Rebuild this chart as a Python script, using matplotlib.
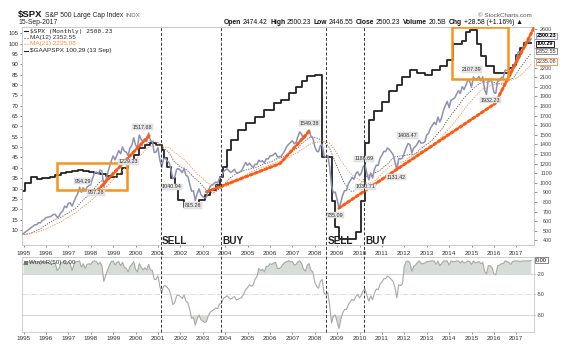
import numpy as np
import pandas as pd
import matplotlib
matplotlib.use("Agg")
import matplotlib.pyplot as plt
from matplotlib.lines import Line2D
from matplotlib.patches import Rectangle
from matplotlib.transforms import blended_transform_factory

plt.rcParams['font.family'] = ['Liberation Sans', 'DejaVu Sans']

# S&P 500 monthly closes, Jan 1993 .. Sep 2017 (1993-94 only feed the moving averages)
spx_close = [
    438.78, 443.38, 451.67, 440.19, 450.19, 450.53, 448.13, 463.56, 458.93, 467.83, 461.79, 466.45,
    481.61, 467.14, 445.77, 450.91, 456.50, 444.27, 458.26, 475.49, 462.69, 472.35, 453.69, 459.27,
    470.42, 487.39, 500.71, 514.71, 533.40, 544.75, 562.06, 561.88, 584.41, 581.50, 605.37, 615.93,
    636.02, 640.43, 645.50, 654.17, 669.12, 670.63, 639.95, 651.99, 687.31, 705.27, 757.02, 740.74,
    786.16, 790.82, 757.12, 801.34, 848.28, 885.14, 954.29, 899.47, 947.28, 914.62, 955.40, 970.43,
    980.28, 1049.34, 1101.75, 1111.75, 1090.82, 1133.84, 1120.67, 957.28, 1017.01, 1098.67, 1163.63, 1229.23,
    1279.64, 1238.33, 1286.37, 1335.18, 1301.84, 1372.71, 1328.72, 1320.41, 1282.71, 1362.93, 1388.91, 1469.25,
    1394.46, 1366.42, 1498.58, 1452.43, 1420.60, 1454.60, 1430.83, 1517.68, 1436.51, 1429.40, 1314.95, 1320.28,
    1366.01, 1239.94, 1160.33, 1249.46, 1255.82, 1224.38, 1211.23, 1133.58, 1040.94, 1059.78, 1139.45, 1148.08,
    1130.20, 1106.73, 1147.39, 1076.92, 1067.14, 989.82, 911.62, 916.07, 815.28, 885.76, 936.31, 879.82,
    855.70, 841.15, 848.18, 916.92, 963.59, 974.50, 990.31, 1008.01, 995.97, 1050.71, 1058.20, 1111.92,
    1131.13, 1144.94, 1126.21, 1107.30, 1120.68, 1140.84, 1101.72, 1104.24, 1114.58, 1130.20, 1173.82, 1211.92,
    1181.27, 1203.60, 1180.59, 1156.85, 1191.50, 1191.33, 1234.18, 1220.33, 1228.81, 1207.01, 1249.48, 1248.29,
    1280.08, 1280.66, 1294.83, 1310.61, 1270.09, 1270.20, 1276.66, 1303.82, 1335.85, 1377.94, 1400.63, 1418.30,
    1438.24, 1406.82, 1420.86, 1482.37, 1530.62, 1503.35, 1455.27, 1473.99, 1526.75, 1549.38, 1481.14, 1468.36,
    1378.55, 1330.63, 1322.70, 1385.59, 1400.38, 1280.00, 1267.38, 1282.83, 1166.36, 968.75, 896.24, 903.25,
    825.88, 735.09, 797.87, 872.81, 919.14, 919.32, 987.48, 1020.62, 1057.08, 1036.19, 1095.63, 1115.10,
    1073.87, 1104.49, 1169.43, 1186.69, 1089.41, 1030.71, 1101.60, 1049.33, 1141.20, 1183.26, 1180.55, 1257.64,
    1286.12, 1327.22, 1325.83, 1363.61, 1345.20, 1320.64, 1292.28, 1218.89, 1131.42, 1253.30, 1246.96, 1257.60,
    1312.41, 1365.68, 1408.47, 1397.91, 1310.33, 1362.16, 1379.32, 1406.58, 1440.67, 1412.16, 1416.18, 1426.19,
    1498.11, 1514.68, 1569.19, 1597.57, 1630.74, 1606.28, 1685.73, 1632.97, 1681.55, 1756.54, 1805.81, 1848.36,
    1782.59, 1859.45, 1872.34, 1883.95, 1923.57, 1960.23, 1930.67, 2003.37, 1972.29, 2018.05, 2067.56, 2058.90,
    1994.99, 2104.50, 2067.89, 2085.51, 2107.39, 2063.11, 2103.84, 1972.18, 1920.03, 2079.36, 2080.41, 2043.94,
    1940.24, 1932.23, 2059.74, 2065.30, 2096.95, 2098.86, 2173.60, 2170.95, 2168.27, 2126.15, 2198.81, 2238.83,
    2278.87, 2363.64, 2362.72, 2384.20, 2411.80, 2423.41, 2470.30, 2471.65, 2500.23,
]
spx_start = 1993

# $GAAPSPX trailing earnings, stepped (month it changes, value)
gaap_dates = ['1994-12', '1995-02', '1995-05', '1995-08', '1995-11', '1996-03', '1996-06', '1996-09',
              '1996-12', '1997-03', '1997-06', '1997-09', '1997-12', '1998-03', '1998-06', '1998-09',
              '1998-12', '1999-03', '1999-06', '1999-09', '1999-12', '2000-03', '2000-06', '2000-09',
              '2000-12', '2001-03', '2001-04', '2001-06', '2001-08', '2001-10', '2001-12', '2002-03',
              '2002-11', '2003-02', '2003-05', '2003-08', '2003-10', '2003-12', '2004-02', '2004-04',
              '2004-08', '2004-12', '2005-05', '2005-10', '2006-03', '2006-07', '2006-11', '2007-03',
              '2007-06', '2007-09', '2008-01', '2008-05', '2008-10', '2008-12', '2009-02', '2009-11',
              '2010-02', '2010-04', '2010-06', '2010-09', '2011-01', '2011-05', '2011-09', '2011-12',
              '2012-04', '2012-08', '2012-12', '2013-04', '2013-08', '2013-12', '2014-03', '2014-08',
              '2014-10', '2014-12', '2015-04', '2015-06', '2015-09', '2016-01', '2016-09', '2016-11',
              '2017-01', '2017-03', '2017-05']
gaap_vals = [29.0, 32.5, 35.5, 34.5, 35.0, 35.5, 36.5, 37.5,
             38.0, 38.5, 39.0, 38.5, 38.0, 37.5, 37.0, 36.0,
             35.5, 37.0, 40.0, 43.0, 46.0, 49.5, 51.0, 52.0,
             51.0, 48.6, 44.7, 40.5, 35.0, 30.0, 24.5, 21.2,
             24.5, 27.0, 29.3, 31.7, 35.7, 40.5, 48.6, 53.4,
             58.2, 61.5, 64.7, 67.9, 71.1, 72.7, 76.0, 79.0,
             82.0, 84.5, 85.0, 45.0, 24.0, 11.5, 5.5, 9.0,
             24.0, 52.0, 63.0, 67.5, 72.0, 77.0, 80.0, 84.0,
             87.0, 86.0, 85.0, 87.0, 89.0, 92.0, 100.0, 101.0,
             105.6, 106.4, 100.0, 94.0, 89.0, 86.0, 88.0, 89.6,
             94.3, 97.7, 100.29]

# Williams %R(50), monthly from Jan 1995
wr_vals = [
    -6, -3, -2, -3, -2, -3, -2, -5, -2, -6, -2, -3,
    -2, -4, -5, -6, -4, -5, -15, -12, -4, -3, -1, -6,
    -2, -5, -15, -6, -2, -2, -1, -10, -5, -12, -6, -5,
    -6, -2, -1, -2, -6, -3, -8, -31, -22, -14, -7, -2,
    -1, -7, -3, -2, -8, -3, -10, -12, -17, -9, -6, -2,
    -13, -17, -5, -10, -14, -11, -14, -6, -14, -15, -28, -28,
    -23, -38, -48, -38, -37, -40, -43, -52, -65, -62, -52, -51,
    -53, -56, -51, -60, -62, -72, -85, -84, -95, -86, -80, -87,
    -89, -91, -90, -81, -76, -74, -72, -70, -71, -64, -63, -56,
    -54, -52, -55, -57, -55, -53, -58, -57, -56, -54, -49, -43,
    -40, -36, -38, -36, -28, -24, -12, -15, -13, -17, -9, -9,
    -5, -6, -4, -3, -12, -12, -10, -6, -3, -2, -1, -2,
    -2, -7, -6, -2, -1, -5, -13, -16, -7, -5, -15, -17,
    -32, -38, -41, -31, -28, -48, -50, -47, -66, -92, -82, -80,
    -90, -100, -86, -77, -72, -72, -65, -61, -57, -59, -53, -50,
    -55, -51, -44, -42, -52, -60, -52, -58, -48, -42, -43, -35,
    -32, -27, -27, -23, -25, -28, -31, -40, -55, -36, -37, -35,
    -8, -2, -1, -4, -16, -9, -7, -3, -1, -5, -5, -4,
    -2, -2, -1, -1, -1, -6, -1, -8, -5, -1, -1, -1,
    -7, -1, -2, -2, -1, -1, -4, -1, -4, -3, -1, -2,
    -6, -1, -4, -3, -2, -5, -3, -16, -20, -8, -8, -11,
    -20, -21, -8, -7, -5, -5, -1, -2, -3, -6, -2, -1,
    -1, -1, -2, -1, -1, -1, -1, -1, 0,
]
wr_start = 1995

# hand drawn trend lines (decimal year, price)
trend_lines = [
    [(1998.30, 920), (2000.60, 1490)],
    [(2003.17, 905), (2006.45, 1200), (2007.80, 1550)],
    [(2009.08, 735), (2016.05, 1825), (2017.78, 2610)],
]
# highlight boxes (year0, year1, price0, price1)
boxes = [(1996.5, 1999.62, 924, 1206), (2014.12, 2016.62, 2083, 2624)]
# signal lines
sig_dates = [2001.12, 2003.80, 2008.50, 2010.20]
sig_text = ['SELL', 'BUY', 'SELL', 'BUY']
# price call-outs: month, offset in px
callouts = [('1997-07', 3, -6), ('1998-08', -8, 6), ('1998-12', 17, 1), ('2000-08', -6, -6),
            ('2001-09', -1, 8), ('2002-09', -2, 5), ('2007-10', 0, -7), ('2009-02', -4, 7),
            ('2010-04', -1, -6), ('2010-06', -3, 7), ('2011-09', -1, 7), ('2012-03', -1, -8),
            ('2015-05', -7, -7), ('2016-02', -5, 7)]

years = list(range(1995, 2018))

W, H = 571, 353


def dec(s):
    y, m = s.split('-')
    return int(y) + (int(m) - 1) / 12


def box(x0, y0, x1, y1):
    return [x0 / W, 1 - y1 / H, (x1 - x0) / W, (y1 - y0) / H]


def ftext(x, y, s, **kw):
    kw.setdefault('va', 'center')
    return fig.text(x / W, 1 - y / H, s, **kw)


t_spx = spx_start + np.arange(len(spx_close)) / 12
spx = pd.Series(spx_close, index=t_spx)
ma12 = spx.rolling(12).mean()
ma21 = spx.rolling(21).mean()
t_end = t_spx[-1]

g_t = [dec(d) for d in gaap_dates] + [t_end]
g_v = gaap_vals + [gaap_vals[-1]]

wr = np.array(wr_vals, dtype=float)
t_wr = wr_start + np.arange(len(wr)) / 12

c_spx = '#8e90b4'
c_orange = '#ff5a14'
c_box = '#f7941d'
c_ma21 = '#ff8a3d'
c_frame = '#c8c8c8'

fig = plt.figure(figsize=(W / 100, H / 100), dpi=100)
fig.patch.set_facecolor('white')

xlim = (1994.93, 2017.79)

ax = fig.add_axes(box(22, 27, 534, 245))
axr = ax.twinx()
ax.set_xlim(xlim)
ax.set_ylim(2.75, 108.0)
axr.set_ylim(351, 2624)

# earnings (left scale)
ax.step(g_t, g_v, where='post', color='#222222', lw=1.3, zorder=3)

# price, averages, trend lines (right scale)
axr.plot(t_spx, spx.values, color=c_spx, lw=1.1, zorder=3)
axr.plot(t_spx, ma12.values, color='#555555', lw=0.6, ls=(0, (1.5, 1.5)), zorder=2)
axr.plot(t_spx, ma21.values, color=c_ma21, lw=0.6, ls=(0, (1.5, 1.5)), zorder=2)
for seg in trend_lines:
    xs, ys = zip(*seg)
    axr.plot(xs, ys, color=c_orange, lw=2.2, ls=(0, (0.8, 0.9)), dash_capstyle='round', zorder=4)
for x0, x1, y0, y1 in boxes:
    axr.add_patch(Rectangle((x0, y0), x1 - x0, y1 - y0, fill=False, ec=c_box, lw=1.8, zorder=5))

for m, dx, dy in callouts:
    tt = dec(m)
    v = spx.iloc[int(round((tt - spx_start) * 12))]
    axr.annotate(f'{v:.2f}', (tt, v), xytext=(dx * 0.72, -dy * 0.72), textcoords='offset points',
                 ha='center', va='center', fontsize=3.9, color='#333333', zorder=6,
                 bbox=dict(boxstyle='square,pad=0.12', fc='#e6e6e6', ec='#d0d0d0', lw=0.3))

for a in (ax, axr):
    for s in a.spines.values():
        s.set_color(c_frame)
        s.set_linewidth(0.6)

ax.set_xticks(years)
ax.set_xticklabels([str(y) for y in years])
ax.tick_params(axis='x', labelsize=4.6, colors='#333333', length=1.5, pad=2.5, width=0.4)
ax.set_yticks(np.arange(10, 106, 5))
ax.tick_params(axis='y', labelsize=4.4, colors='#333333', length=1.5, pad=1.2, width=0.4)
# price ticks; the ones under the last-value tags are left unlabelled
r_ticks = np.arange(400, 2601, 100)
axr.set_yticks(r_ticks)
axr.set_yticklabels(['' if 2300 <= v <= 2500 else str(v) for v in r_ticks])
axr.tick_params(axis='y', labelsize=3.9, colors='#444444', length=2, pad=11, width=0.4)
for lab in axr.get_yticklabels():
    lab.set_horizontalalignment('right')

# last-value tags on the right scale (nudged apart so they stay readable)
tr = blended_transform_factory(axr.transAxes, axr.transData)
tl = blended_transform_factory(ax.transAxes, ax.transData)
tag_kw = dict(ha='left', va='center', fontsize=3.9, zorder=8, clip_on=False)
axr.text(1.006, ma21.iloc[-1] + 30, f'{ma21.iloc[-1]:.2f}', transform=tr, color='#333333',
         bbox=dict(boxstyle='square,pad=0.12', fc='white', ec=c_ma21, lw=0.6), **tag_kw)
axr.text(1.006, ma12.iloc[-1] + 20, f'{ma12.iloc[-1]:.2f}', transform=tr, color='#333333',
         bbox=dict(boxstyle='square,pad=0.12', fc='white', ec='#777777', lw=0.6), **tag_kw)
ax.text(1.006, gaap_vals[-1] - 0.4, f'{gaap_vals[-1]:.2f}', transform=tl, color='black', fontweight='bold',
        bbox=dict(boxstyle='square,pad=0.12', fc='white', ec='black', lw=0.6), **tag_kw)
axr.text(1.006, spx.iloc[-1] + 30, f'{spx.iloc[-1]:.2f}', transform=tr, color='black', fontweight='bold',
         bbox=dict(boxstyle='square,pad=0.12', fc='#eeeef4', ec=c_spx, lw=0.6), **tag_kw)

# legend block
leg_kw = dict(fontsize=4.6, ha='left')
ftext(30, 31, f'$SPX (Monthly) {spx.iloc[-1]:.2f}', color='#222222', family='DejaVu Sans Mono', fontsize=4.4)
ftext(30, 37.5, f'MA(12) {ma12.iloc[-1]:.2f}', color='#333333', **leg_kw)
ftext(30, 44, f'MA(21) {ma21.iloc[-1]:.2f}', color=c_ma21, **leg_kw)
ftext(30, 50.5, f'$GAAPSPX {gaap_vals[-1]:.2f} (13 Sep)', color='#222222', **leg_kw)
for yy, col, ls in [(31, '#222222', '-'), (37.5, '#555555', ':'), (44, c_ma21, ':'), (50.5, '#222222', '-')]:
    fig.add_artist(Line2D([24.5 / W, 28.5 / W], [1 - yy / H] * 2, color=col, lw=0.8, ls=ls))

# header
ftext(18, 15, '$SPX', fontsize=6.8, fontweight='bold', color='#111111')
ftext(45, 15.3, 'S&P 500 Large Cap Index', fontsize=4.9, color='#222222')
ftext(125, 15.3, 'INDX', fontsize=4.4, color='#666666')
ftext(18, 23, '15-Sep-2017', fontsize=4.9, color='#222222')
ftext(478, 15.3, '\u00a9 StockCharts.com', fontsize=4.5, color='#555555')
header = [('Open', True), ('2474.42', False), ('High', True), ('2500.23', False), ('Low', True),
          ('2446.55', False), ('Close', True), ('2500.23', False), ('Volume', True), ('20.5B', False),
          ('Chg', True), ('+28.58 (+1.16%) \u25b2', False)]
rend = fig.canvas.get_renderer()
hx = 224
for s, b in header:
    tx = ftext(hx, 23, s, fontsize=4.85, fontweight='bold' if b else 'normal', color='#111111')
    hx += tx.get_window_extent(rend).width + (1.4 if b else 2.8)

# Williams %R panel
axw = fig.add_axes(box(22, 257, 534, 332))
axw.set_xlim(xlim)
axw.set_ylim(-105, 4.8)
axw.plot(t_wr, wr, color='#a8a8a8', lw=0.8, zorder=3)
axw.fill_between(t_wr, wr, -20, where=wr > -20, interpolate=True, color='#d6ddd6', lw=0, zorder=2)
axw.fill_between(t_wr, wr, -80, where=wr < -80, interpolate=True, color='#d6ddd6', lw=0, zorder=2)
axw.axhline(-20, color='#cfcfcf', lw=0.6, zorder=1)
axw.axhline(-50, color='#d8d8d8', lw=0.6, ls='-.', zorder=1)
axw.axhline(-80, color='#cfcfcf', lw=0.6, zorder=1)
axw.yaxis.tick_right()
axw.set_yticks([-20, -50, -80])
axw.set_yticklabels(['-20', '-50', '-80'])
axw.tick_params(axis='y', labelsize=3.9, colors='#444444', length=1, pad=1, width=0.4)
axw.set_xticks(years)
axw.set_xticklabels([str(y) for y in years])
axw.tick_params(axis='x', labelsize=4.6, colors='#333333', length=1.5, pad=1.2, width=0.4)
for s in axw.spines.values():
    s.set_color(c_frame)
    s.set_linewidth(0.6)
ftext(29, 262.5, f'Wm%R(50) {wr[-1]:.2f}', fontsize=4.5, color='#333333', ha='left')
fig.add_artist(Rectangle((24 / W, 1 - 264.5 / H), 3.5 / W, 4 / H, transform=fig.transFigure,
                         fc='#777777', ec='none'))
axw.text(1.004, wr[-1], f'{wr[-1]:.2f}', transform=blended_transform_factory(axw.transAxes, axw.transData),
         ha='left', va='center', fontsize=4.0, clip_on=False,
         bbox=dict(boxstyle='square,pad=0.12', fc='white', ec='#555555', lw=0.5))

# signal lines across both panels, with labels
y_top = 1 - 27 / H
y_bot = 1 - 332 / H
for d, lab in zip(sig_dates, sig_text):
    xf = ax.transData.transform((d, 0))[0] / fig.bbox.width
    fig.add_artist(Line2D([xf, xf], [y_bot, y_top], color='#333333', lw=0.7, ls=(0, (3, 2))))
    fig.text(xf + 1.5 / W, 1 - 241 / H, lab, fontsize=7.2, fontweight='bold', color='#222222',
             ha='left', va='center')

fig.savefig('out.png', dpi=100, facecolor='white')
